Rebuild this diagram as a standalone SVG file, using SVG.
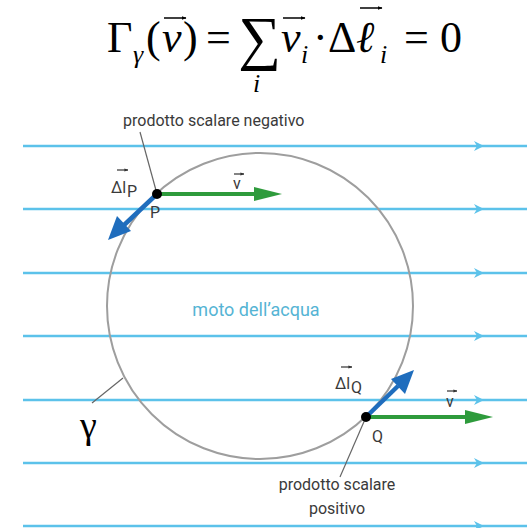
<svg xmlns="http://www.w3.org/2000/svg" width="527" height="528" viewBox="0 0 527 528">
<defs>
<style>
.flow{stroke:#5cc2ea;stroke-width:2.5;fill:none}
.fhead{fill:#5cc2ea}
.lbl{font-family:Roboto,"Liberation Sans",sans-serif;font-size:16px;fill:#3a3a3a}
.math{font-family:"Liberation Serif","Times New Roman",serif;fill:#000}
.it{font-style:italic}
.lead{stroke:#666;stroke-width:1.2;fill:none}
.acc{stroke:#000;stroke-width:1.5}
.accs{stroke:#333;stroke-width:1.2}
</style>
<marker id="acm" viewBox="0 0 10 10" refX="9" refY="5" markerWidth="5" markerHeight="5" orient="auto" markerUnits="userSpaceOnUse"><path d="M0,1 L10,5 L0,9 z" fill="#000"/></marker>
<marker id="acs" viewBox="0 0 10 10" refX="9" refY="5" markerWidth="4" markerHeight="4" orient="auto" markerUnits="userSpaceOnUse"><path d="M0,1 L10,5 L0,9 z" fill="#333"/></marker>
</defs>
<rect width="527" height="528" fill="#fff"/>

<g id="formula">
<text class="math" x="107" y="52" font-size="44">Γ</text>
<text class="math it" x="133" y="63" font-size="26">γ</text>
<text class="math" x="146" y="52" font-size="44">(</text>
<text class="math it" x="162" y="52" font-size="44">v</text>
<line class="acc" x1="164" y1="18" x2="186" y2="18" marker-end="url(#acm)"/>
<text class="math" x="183" y="52" font-size="44">)</text>
<text class="math" x="206" y="52" font-size="44">=</text>
<text class="math" x="238" y="58" font-size="60">∑</text>
<text class="math it" x="253" y="92" font-size="26">i</text>
<text class="math it" x="281" y="52" font-size="44">v</text>
<line class="acc" x1="283" y1="18" x2="305" y2="18" marker-end="url(#acm)"/>
<text class="math it" x="301" y="63" font-size="26">i</text>
<text class="math" x="313" y="52" font-size="44">·</text>
<text class="math" x="328" y="52" font-size="44">Δ</text>
<text class="math it" x="356" y="52" font-size="44">ℓ</text>
<line class="acc" x1="360" y1="8" x2="382" y2="8" marker-end="url(#acm)"/>
<text class="math it" x="380" y="63" font-size="26">i</text>
<text class="math" x="404" y="52" font-size="44">=</text>
<text class="math" x="440" y="52" font-size="44">0</text>
</g>

<g id="flow-lines">
<g id="line1"><line class="flow" x1="23" y1="146" x2="527" y2="146"/><path class="fhead" d="M474,141 L484,146 L474,151 L477,146 z"/></g>
<g id="line2"><line class="flow" x1="23" y1="209" x2="527" y2="209"/><path class="fhead" d="M474,204 L484,209 L474,214 L477,209 z"/></g>
<g id="line3"><line class="flow" x1="23" y1="273" x2="527" y2="273"/><path class="fhead" d="M474,268 L484,273 L474,278 L477,273 z"/></g>
<g id="line4"><line class="flow" x1="23" y1="336" x2="527" y2="336"/><path class="fhead" d="M474,331 L484,336 L474,341 L477,336 z"/></g>
<g id="line5"><line class="flow" x1="23" y1="400" x2="527" y2="400"/><path class="fhead" d="M474,395 L484,400 L474,405 L477,400 z"/></g>
<g id="line6"><line class="flow" x1="23" y1="463" x2="527" y2="463"/><path class="fhead" d="M474,458 L484,463 L474,468 L477,463 z"/></g>
<g id="line7"><line class="flow" x1="23" y1="526" x2="527" y2="526"/><path class="fhead" d="M474,521 L484,526 L474,531 L477,526 z"/></g>
</g>

<g id="circle-gamma">
<circle cx="260" cy="306" r="153" fill="none" stroke="#9e9e9e" stroke-width="2"/>
</g>

<g id="moto">
<text x="256" y="316" text-anchor="middle" font-family="Roboto,'Liberation Sans',sans-serif" font-size="18" fill="#55b4d4">moto dell’acqua</text>
</g>

<g id="gamma-label">
<line class="lead" x1="92" y1="403" x2="123" y2="378"/>
<text class="math" x="80" y="438" font-size="38">γ</text>
</g>

<g id="point-P">
<line class="lead" x1="140" y1="132" x2="157" y2="194"/>
<text class="lbl" x="123" y="126">prodotto scalare negativo</text>
<line x1="157" y1="194" x2="258" y2="194" stroke="#2e9b3c" stroke-width="4"/>
<path d="M254,187 L282,194 L254,201 z" fill="#2e9b3c"/>
<line x1="157" y1="194" x2="123" y2="226" stroke="#1f6dbd" stroke-width="4.5"/>
<path d="M108,240 L117,216 L131,231 z" fill="#1f6dbd"/>
<circle cx="157" cy="194" r="5" fill="#000"/>
<text class="lbl" x="150" y="218">P</text>
<text class="lbl" x="233" y="189">v</text>
<line class="accs" x1="234" y1="174" x2="244" y2="174" marker-end="url(#acs)"/>
<text class="lbl" x="111" y="193">Δl</text>
<text class="lbl" x="127" y="197" font-size="12">P</text>
<line class="accs" x1="117" y1="170" x2="128" y2="170" marker-end="url(#acs)"/>
</g>

<g id="point-Q">
<line class="lead" x1="366" y1="417" x2="340" y2="477"/>
<line x1="366" y1="417" x2="468" y2="417" stroke="#2e9b3c" stroke-width="4"/>
<path d="M465,410 L493,417 L465,424 z" fill="#2e9b3c"/>
<line x1="366" y1="417" x2="398" y2="386" stroke="#1f6dbd" stroke-width="4.5"/>
<path d="M414,370 L405,394 L391,379 z" fill="#1f6dbd"/>
<circle cx="366" cy="417" r="5" fill="#000"/>
<text class="lbl" x="372" y="442">Q</text>
<text class="lbl" x="446" y="407">v</text>
<line class="accs" x1="447" y1="391" x2="457" y2="391" marker-end="url(#acs)"/>
<text class="lbl" x="335" y="389">Δl</text>
<text class="lbl" x="351" y="393" font-size="12">Q</text>
<line class="accs" x1="341" y1="367" x2="352" y2="367" marker-end="url(#acs)"/>
<text class="lbl" x="337" y="490" text-anchor="middle">prodotto scalare</text>
<text class="lbl" x="337" y="514" text-anchor="middle">positivo</text>
</g>
</svg>
